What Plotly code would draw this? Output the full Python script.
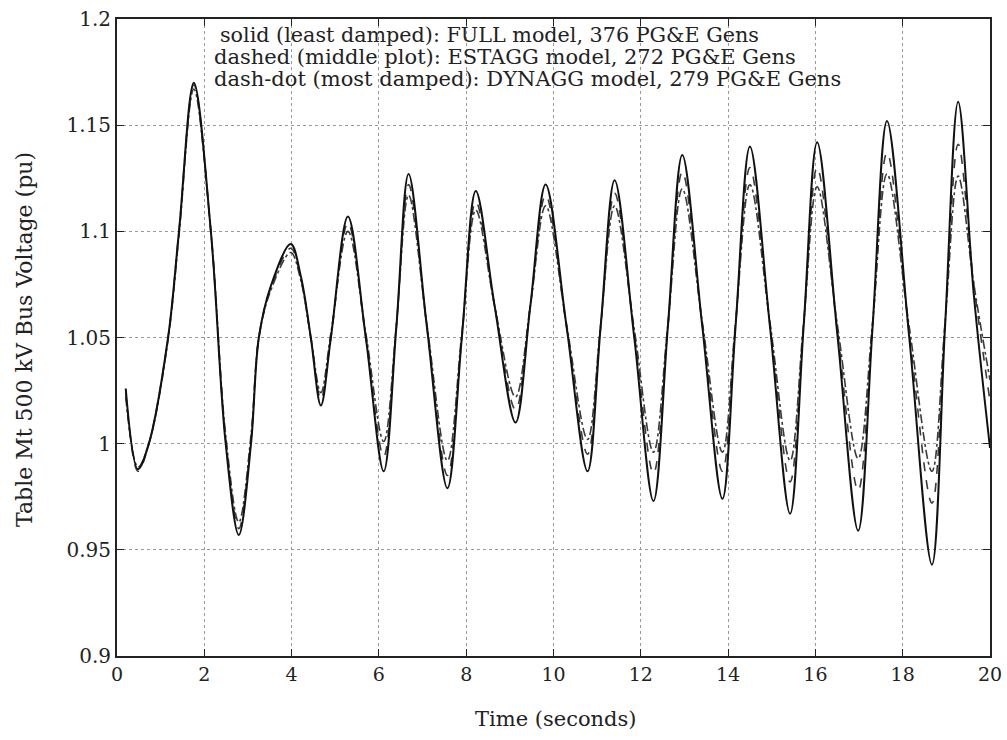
import plotly.graph_objects as go

time_s = [0.20, 0.48, 0.73, 1.17, 1.42, 1.76, 2.15, 2.49, 2.79, 3.07, 3.25, 3.52,
          3.98, 4.21, 4.44, 4.67, 4.90, 5.29, 5.70, 6.11, 6.40, 6.68, 7.10, 7.57,
          7.90, 8.22, 8.65, 9.13, 9.47, 9.82, 10.30, 10.78, 11.08, 11.40, 11.85,
          12.29, 12.62, 12.95, 13.41, 13.87, 14.17, 14.50, 14.96, 15.42, 15.73,
          16.04, 16.51, 16.98, 17.31, 17.64, 18.15, 18.67, 18.97, 19.27, 19.63, 20.00]

# FULL model, 376 PG&E Gens (solid, least damped)
full_pu = [1.026, 0.988, 1.000, 1.050, 1.100, 1.170, 1.100, 1.000, 0.957, 1.000, 1.050, 1.074,
           1.094, 1.079, 1.050, 1.018, 1.050, 1.107, 1.050, 0.987, 1.055, 1.127, 1.055, 0.979,
           1.050, 1.119, 1.065, 1.010, 1.065, 1.122, 1.055, 0.987, 1.055, 1.124, 1.050,
           0.973, 1.055, 1.136, 1.055, 0.974, 1.055, 1.140, 1.055, 0.967, 1.055,
           1.142, 1.050, 0.959, 1.055, 1.152, 1.050, 0.943, 1.055, 1.161, 1.070, 0.998]

# ESTAGG model, 272 PG&E Gens (dashed, middle)
estagg_pu = [1.024, 0.987, 1.000, 1.050, 1.100, 1.169, 1.100, 1.002, 0.960, 1.002, 1.050, 1.073,
             1.092, 1.078, 1.050, 1.021, 1.050, 1.104, 1.050, 0.994, 1.055, 1.122, 1.055, 0.985,
             1.050, 1.114, 1.065, 1.016, 1.065, 1.117, 1.055, 0.995, 1.055, 1.118, 1.052,
             0.986, 1.055, 1.128, 1.056, 0.987, 1.056, 1.130, 1.056, 0.982, 1.056,
             1.130, 1.052, 0.978, 1.056, 1.137, 1.052, 0.972, 1.056, 1.141, 1.075, 1.020]

# DYNAGG model, 279 PG&E Gens (dash-dot, most damped)
dynagg_pu = [1.022, 0.989, 1.000, 1.049, 1.098, 1.167, 1.100, 1.004, 0.963, 1.004, 1.050, 1.072,
             1.090, 1.077, 1.050, 1.024, 1.052, 1.100, 1.052, 1.001, 1.056, 1.117, 1.056, 0.992,
             1.052, 1.110, 1.065, 1.022, 1.065, 1.112, 1.056, 1.002, 1.056, 1.112, 1.054,
             0.996, 1.056, 1.120, 1.057, 0.996, 1.057, 1.122, 1.057, 0.992, 1.057,
             1.121, 1.055, 0.993, 1.057, 1.127, 1.055, 0.987, 1.057, 1.126, 1.075, 1.030]

x_ticks = [0, 2, 4, 6, 8, 10, 12, 14, 16, 18, 20]
y_ticks = [0.9, 0.95, 1.0, 1.05, 1.1, 1.15, 1.2]
y_tick_text = ["0.9", "0.95", "1", "1.05", "1.1", "1.15", "1.2"]

legend_lines = [
    "solid (least damped): FULL model, 376 PG&E Gens",
    "dashed (middle plot): ESTAGG model, 272 PG&E Gens",
    "dash-dot (most damped): DYNAGG model, 279 PG&E Gens",
]
x_title = "Time (seconds)"
y_title = "Table Mt 500 kV Bus Voltage (pu)"

FONT = "DejaVu Serif, serif"
INK = "#222222"

L, R, T, B = 117, 17, 19, 84
W, H = 1007, 740
PW, PH = W - L - R, H - T - B

fig = go.Figure()
fig.add_trace(go.Scatter(x=time_s, y=dynagg_pu, mode="lines",
                         line=dict(color="#3a3a3a", width=1.6, dash="dashdot", shape="spline", smoothing=1.0),
                         name="DYNAGG"))
fig.add_trace(go.Scatter(x=time_s, y=estagg_pu, mode="lines",
                         line=dict(color="#3a3a3a", width=1.6, dash="dash", shape="spline", smoothing=1.0),
                         name="ESTAGG"))
fig.add_trace(go.Scatter(x=time_s, y=full_pu, mode="lines",
                         line=dict(color="#111111", width=2, shape="spline", smoothing=1.0),
                         name="FULL"))

legend_x_px = [218, 212, 212]
legend_y_px = [35, 57, 79]
legend_sizes = [20.7, 21, 21]
for txt, xp, yp, fs in zip(legend_lines, legend_x_px, legend_y_px, legend_sizes):
    fig.add_annotation(x=(xp - L) / PW, y=1 - (yp - T) / PH, xref="paper", yref="paper",
                       text=txt, showarrow=False, xanchor="left", yanchor="middle",
                       font=dict(family=FONT, size=fs, color=INK))

# axis titles
fig.add_annotation(x=(555 - L) / PW, y=-(719 - T - PH) / PH, xref="paper", yref="paper",
                   text=x_title, showarrow=False, xanchor="center", yanchor="middle",
                   font=dict(family=FONT, size=21, color=INK))
fig.add_annotation(x=-(L - 24) / PW, y=1 - (340 - T) / PH, xref="paper", yref="paper",
                   text=y_title, showarrow=False, xanchor="center", yanchor="middle", textangle=-90,
                   font=dict(family=FONT, size=22, color=INK))

fig.update_layout(
    width=W, height=H,
    margin=dict(l=L, r=R, t=T, b=B, autoexpand=False),
    paper_bgcolor="white", plot_bgcolor="white",
    showlegend=False,
    font=dict(family=FONT, color=INK),
)
fig.update_xaxes(range=[0, 20], tickvals=x_ticks, ticktext=[str(v) for v in x_ticks],
                 automargin=False,
                 showgrid=True, gridcolor="#9a9a9a", griddash="dot", gridwidth=1,
                 ticks="inside", ticklen=7, tickcolor=INK,
                 showline=True, linecolor=INK, linewidth=2, mirror="ticks",
                 zeroline=False, tickfont=dict(family=FONT, size=19, color=INK))
fig.update_yaxes(range=[0.9, 1.2], tickvals=y_ticks, ticktext=y_tick_text,
                 automargin=False,
                 showgrid=True, gridcolor="#9a9a9a", griddash="dot", gridwidth=1,
                 ticks="inside", ticklen=7, tickcolor=INK,
                 showline=True, linecolor=INK, linewidth=2, mirror="ticks",
                 zeroline=False, tickfont=dict(family=FONT, size=20, color=INK))

fig.write_html("out.html", config={"displayModeBar": False},
               post_script="document.body.style.margin='0';document.body.style.overflow='hidden';")
